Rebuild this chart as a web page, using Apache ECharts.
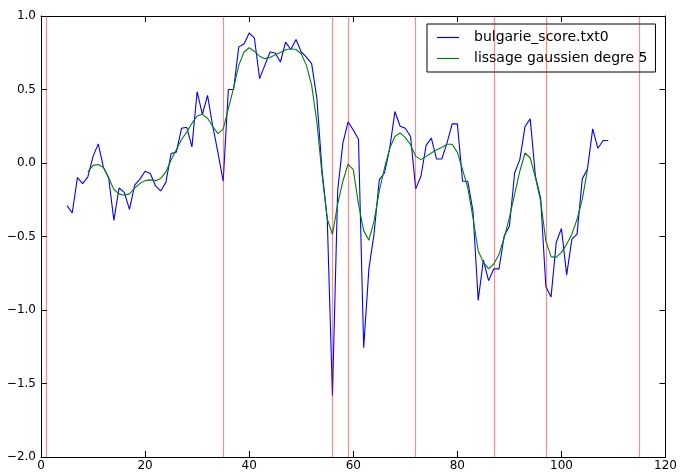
<!DOCTYPE html>
<html>
<head>
<meta charset="utf-8">
<script src="https://cdn.jsdelivr.net/npm/echarts@6/dist/echarts.min.js"></script>
<style>html,body{margin:0;padding:0;background:#fff}#c{width:680px;height:472px}</style>
</head>
<body>
<div id="c"></div>
<script>
// Raw score, starting at x = 5
var scoreStart = 5;
var scoreValues = [
 -0.29,-0.34,-0.10,-0.14,-0.095,0.045,0.13,-0.03,-0.10,-0.39,
 -0.17,-0.20,-0.315,-0.15,-0.11,-0.056,-0.072,-0.155,-0.19,-0.13,
 0.065,0.074,0.236,0.243,0.11,0.485,0.33,0.46,0.25,0.07,
 -0.124,0.50,0.50,0.79,0.81,0.885,0.85,0.574,0.664,0.755,
 0.748,0.687,0.822,0.772,0.84,0.755,0.72,0.676,0.44,-0.05,
 -0.38,-1.583,-0.19,0.135,0.28,0.225,0.162,-1.257,-0.72,-0.48,
 -0.113,-0.068,0.10,0.35,0.25,0.236,0.18,-0.176,-0.09,0.12,
 0.169,0.027,0.027,0.135,0.266,0.266,-0.124,-0.124,-0.327,-0.935,
 -0.66,-0.80,-0.72,-0.72,-0.495,-0.43,-0.068,0.023,0.248,0.30,
 -0.09,-0.24,-0.84,-0.912,-0.54,-0.446,-0.761,-0.518,-0.484,-0.108,
 -0.04,0.232,0.10,0.153,0.153
];
// Gaussian smoothing, starting at x = 9
var smoothStart = 9;
var smoothValues = [
 -0.06,-0.016,-0.01,-0.03,-0.10,-0.18,-0.21,-0.22,-0.21,-0.17,
 -0.14,-0.12,-0.115,-0.12,-0.105,-0.06,0.02,0.09,0.16,0.21,
 0.27,0.32,0.331,0.304,0.248,0.20,0.23,0.37,0.51,0.664,
 0.755,0.784,0.76,0.727,0.71,0.718,0.736,0.752,0.77,0.777,
 0.772,0.743,0.664,0.53,0.28,-0.08,-0.38,-0.485,-0.28,-0.124,
 -0.007,-0.045,-0.28,-0.46,-0.525,-0.394,-0.19,-0.034,0.10,0.18,
 0.205,0.173,0.124,0.045,0.023,0.045,0.068,0.09,0.106,0.128,
 0.128,0.072,-0.045,-0.169,-0.372,-0.597,-0.676,-0.72,-0.687,-0.62,
 -0.507,-0.372,-0.214,-0.056,0.068,0.034,-0.10,-0.259,-0.53,-0.637,
 -0.642,-0.608,-0.552,-0.484,-0.383,-0.248,-0.045
];
var redLines = [1, 35, 56, 59, 72, 87, 97, 115];
var seriesNames = ['bulgarie_score.txt0', 'lissage gaussien degre 5'];

function pairs(start, vals){ return vals.map(function(v,i){ return [start + i, v]; }); }

var font = 'DejaVu Sans';
var chart = echarts.init(document.getElementById('c'), null, {renderer:'canvas'});
var axisCommon = {
  axisLine:{show:true, onZero:false, lineStyle:{color:'#000', width:1}},
  axisTick:{show:true, inside:true, length:6, lineStyle:{color:'#000'}},
  splitLine:{show:false}
};
chart.setOption({
  animation:false,
  backgroundColor:'#fff',
  textStyle:{fontFamily:font},
  grid:{left:41, right:10, top:16, bottom:13, containLabel:false},
  xAxis:[
    Object.assign({type:'value', position:'bottom', min:0, max:120, interval:20,
      axisLabel:{color:'#000', fontSize:12, fontFamily:font, margin:3}}, axisCommon),
    Object.assign({type:'value', position:'top', min:0, max:120, interval:20,
      axisLabel:{show:false}}, axisCommon)
  ],
  yAxis:[
    Object.assign({type:'value', position:'left', min:-2, max:1, interval:0.5,
      axisLabel:{color:'#000', fontSize:12, fontFamily:font, margin:5,
        formatter:function(v){ var s=v.toFixed(1); return s.replace('-', '\u2212'); }}}, axisCommon),
    Object.assign({type:'value', position:'right', min:-2, max:1, interval:0.5,
      axisLabel:{show:false}}, axisCommon)
  ],
  legend:{
    left:427, top:24, orient:'vertical',
    data:seriesNames.map(function(n){ return {name:n, icon:'rect'}; }),
    backgroundColor:'#fff', borderColor:'#000', borderWidth:1, borderRadius:0,
    padding:[5,8,5,10], itemGap:4, itemWidth:22, itemHeight:1.2,
    textStyle:{fontSize:14, fontFamily:font, color:'#000', padding:[0,0,0,10], lineHeight:17}
  },
  series:[
    {name:seriesNames[0], type:'line', data:pairs(scoreStart, scoreValues), symbol:'none',
      lineStyle:{color:'#0000ff', width:1.1}, itemStyle:{color:'#0000ff'}, z:3,
      markLine:{silent:true, symbol:['none','none'], label:{show:false},
        lineStyle:{color:'rgba(255,0,0,0.45)', width:1.2, type:'solid'},
        data:redLines.map(function(x){ return {xAxis:x}; })}},
    {name:seriesNames[1], type:'line', data:pairs(smoothStart, smoothValues), symbol:'none',
      lineStyle:{color:'#008000', width:1.1}, itemStyle:{color:'#008000'}, z:4}
  ]
});
</script>
</body>
</html>
